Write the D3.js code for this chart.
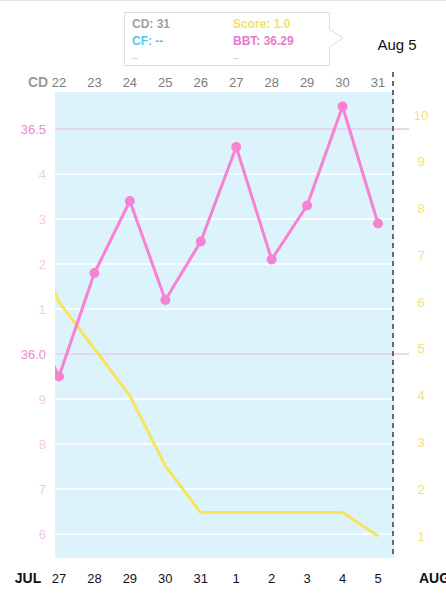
<!DOCTYPE html>
<html>
<head>
<meta charset="utf-8">
<script src="https://cdn.jsdelivr.net/npm/d3@7"></script>
<style>
  body { margin: 0; background: #fff; }
  svg { display: block; font-family: "Liberation Sans", Arial, sans-serif; }
</style>
</head>
<body>
<div id="chart"></div>
<script>
// cycle days shown on top, calendar dates on bottom
const cycleDays = [22, 23, 24, 25, 26, 27, 28, 29, 30, 31];
const dates = ["27", "28", "29", "30", "31", "1", "2", "3", "4", "5"];
// values; first entry is the day before (clipped off)
const bbt = [36.11, 35.95, 36.18, 36.34, 36.12, 36.25, 36.46, 36.21, 36.33, 36.55, 36.29];
const score = [7.8, 6.0, 5.0, 4.0, 2.5, 1.5, 1.5, 1.5, 1.5, 1.5, 1.0];
const tempTicks = [36.5, 36.4, 36.3, 36.2, 36.1, 36.0, 35.9, 35.8, 35.7, 35.6];
const tempLabels = ["36.5", "4", "3", "2", "1", "36.0", "9", "8", "7", "6"];
const scoreTicks = [10, 9, 8, 7, 6, 5, 4, 3, 2, 1];

const width = 446, height = 600;
const plot = { left: 55, right: 394, top: 92, bottom: 558 };

const svg = d3.select("#chart").append("svg")
    .attr("width", width)
    .attr("height", height);

const x = d3.scaleLinear().domain([0, 9]).range([59, 378]);
const yT = d3.scaleLinear().domain([35.6, 36.5]).range([534, 129]);
const yS = d3.scaleLinear().domain([1, 10]).range([536, 115]);

// faint line at very top
svg.append("line")
    .attr("x1", 0).attr("x2", width).attr("y1", 0.5).attr("y2", 0.5)
    .attr("stroke", "#e4e4e4");

// plot background
svg.append("rect")
    .attr("x", plot.left).attr("y", plot.top)
    .attr("width", plot.right - plot.left).attr("height", plot.bottom - plot.top)
    .attr("fill", "#ddf3fc");

svg.append("clipPath").attr("id", "clip")
    .append("rect")
    .attr("x", plot.left).attr("y", plot.top - 20)
    .attr("width", plot.right - plot.left + 20).attr("height", plot.bottom - plot.top + 20);

// grid lines
const major = d => d === 36.5 || d === 36.0;
svg.append("g").selectAll("line")
    .data(tempTicks)
    .join("line")
    .attr("x1", plot.left)
    .attr("x2", d => major(d) ? 409 : plot.right - 1)
    .attr("y1", d => yT(d)).attr("y2", d => yT(d))
    .attr("stroke", d => major(d) ? "#ecc9ea" : "#ffffff")
    .attr("stroke-width", 1.5);

// left axis labels
svg.append("g").selectAll("text")
    .data(tempTicks)
    .join("text")
    .attr("x", 46)
    .attr("y", d => yT(d))
    .attr("dy", "0.35em")
    .attr("text-anchor", "end")
    .attr("font-size", 13)
    .attr("fill", d => major(d) ? "#e98bcd" : "#f4c8ec")
    .text((d, i) => tempLabels[i]);

// right axis labels
svg.append("g").selectAll("text")
    .data(scoreTicks)
    .join("text")
    .attr("x", 421)
    .attr("y", d => yS(d))
    .attr("dy", "0.35em")
    .attr("text-anchor", "middle")
    .attr("font-size", 13)
    .attr("fill", "#f3e37a")
    .text(d => d);

// top axis: cycle days
svg.append("text")
    .attr("x", 38).attr("y", 82).attr("dy", "0.35em")
    .attr("text-anchor", "middle")
    .attr("font-size", 14).attr("font-weight", "bold")
    .attr("fill", "#9a9a9a")
    .text("CD");
svg.append("g").selectAll("text")
    .data(cycleDays)
    .join("text")
    .attr("x", (d, i) => x(i))
    .attr("y", 82).attr("dy", "0.35em")
    .attr("text-anchor", "middle")
    .attr("font-size", 13)
    .attr("fill", "#7d7d7d")
    .text(d => d);

// bottom axis: dates
svg.append("text")
    .attr("x", 28).attr("y", 578).attr("dy", "0.35em")
    .attr("text-anchor", "middle")
    .attr("font-size", 14).attr("font-weight", "bold")
    .attr("fill", "#111")
    .text("JUL");
svg.append("text")
    .attr("x", 419).attr("y", 578).attr("dy", "0.35em")
    .attr("font-size", 14).attr("font-weight", "bold")
    .attr("fill", "#111")
    .text("AUG");
svg.append("g").selectAll("text")
    .data(dates)
    .join("text")
    .attr("x", (d, i) => x(i))
    .attr("y", 578).attr("dy", "0.35em")
    .attr("text-anchor", "middle")
    .attr("font-size", 13)
    .attr("fill", "#111")
    .text(d => d);

const lines = svg.append("g").attr("clip-path", "url(#clip)");

// score line
lines.append("path")
    .datum(score)
    .attr("fill", "none")
    .attr("stroke", "#f7e35c")
    .attr("stroke-width", 3)
    .attr("stroke-linejoin", "round")
    .attr("d", d3.line().x((d, i) => x(i - 1)).y(d => yS(d)));

// bbt line
lines.append("path")
    .datum(bbt)
    .attr("fill", "none")
    .attr("stroke", "#f781d3")
    .attr("stroke-width", 3)
    .attr("stroke-linejoin", "round")
    .attr("d", d3.line().x((d, i) => x(i - 1)).y(d => yT(d)));

lines.selectAll("circle")
    .data(bbt.slice(1))
    .join("circle")
    .attr("cx", (d, i) => x(i))
    .attr("cy", d => yT(d))
    .attr("r", 5)
    .attr("fill", "#f781d3");

// selected day marker
svg.append("line")
    .attr("x1", 393).attr("x2", 393)
    .attr("y1", 72).attr("y2", plot.bottom)
    .attr("stroke", "#5f6b78")
    .attr("stroke-width", 2)
    .attr("stroke-dasharray", "5,4");

svg.append("text")
    .attr("x", 397).attr("y", 45).attr("dy", "0.35em")
    .attr("text-anchor", "middle")
    .attr("font-size", 15)
    .attr("fill", "#111")
    .text("Aug 5");

// tooltip
const tip = svg.append("g");
tip.append("path")
    .attr("d", "M124.5,12.5 H329.5 V29 L343,38 L329.5,47 V65.5 H124.5 Z")
    .attr("fill", "#fff")
    .attr("stroke", "#dcdcdc")
    .attr("stroke-width", 1);

const tipRows = [
    { x: 132, y: 24, text: "CD: 31", color: "#a0a0a0", size: 12 },
    { x: 233, y: 24, text: "Score: 1.0", color: "#f4e06a", size: 12 },
    { x: 132, y: 41, text: "CF: --", color: "#5bc4ea", size: 12 },
    { x: 233, y: 41, text: "BBT: 36.29", color: "#e978cd", size: 12 },
    { x: 132, y: 58, text: "--", color: "#f0b8e2", size: 9 },
    { x: 233, y: 58, text: "--", color: "#f0b8e2", size: 9 }
];
tip.selectAll("text")
    .data(tipRows)
    .join("text")
    .attr("x", d => d.x).attr("y", d => d.y).attr("dy", "0.35em")
    .attr("font-size", d => d.size)
    .attr("font-weight", "bold")
    .attr("fill", d => d.color)
    .text(d => d.text);
</script>
</body>
</html>
